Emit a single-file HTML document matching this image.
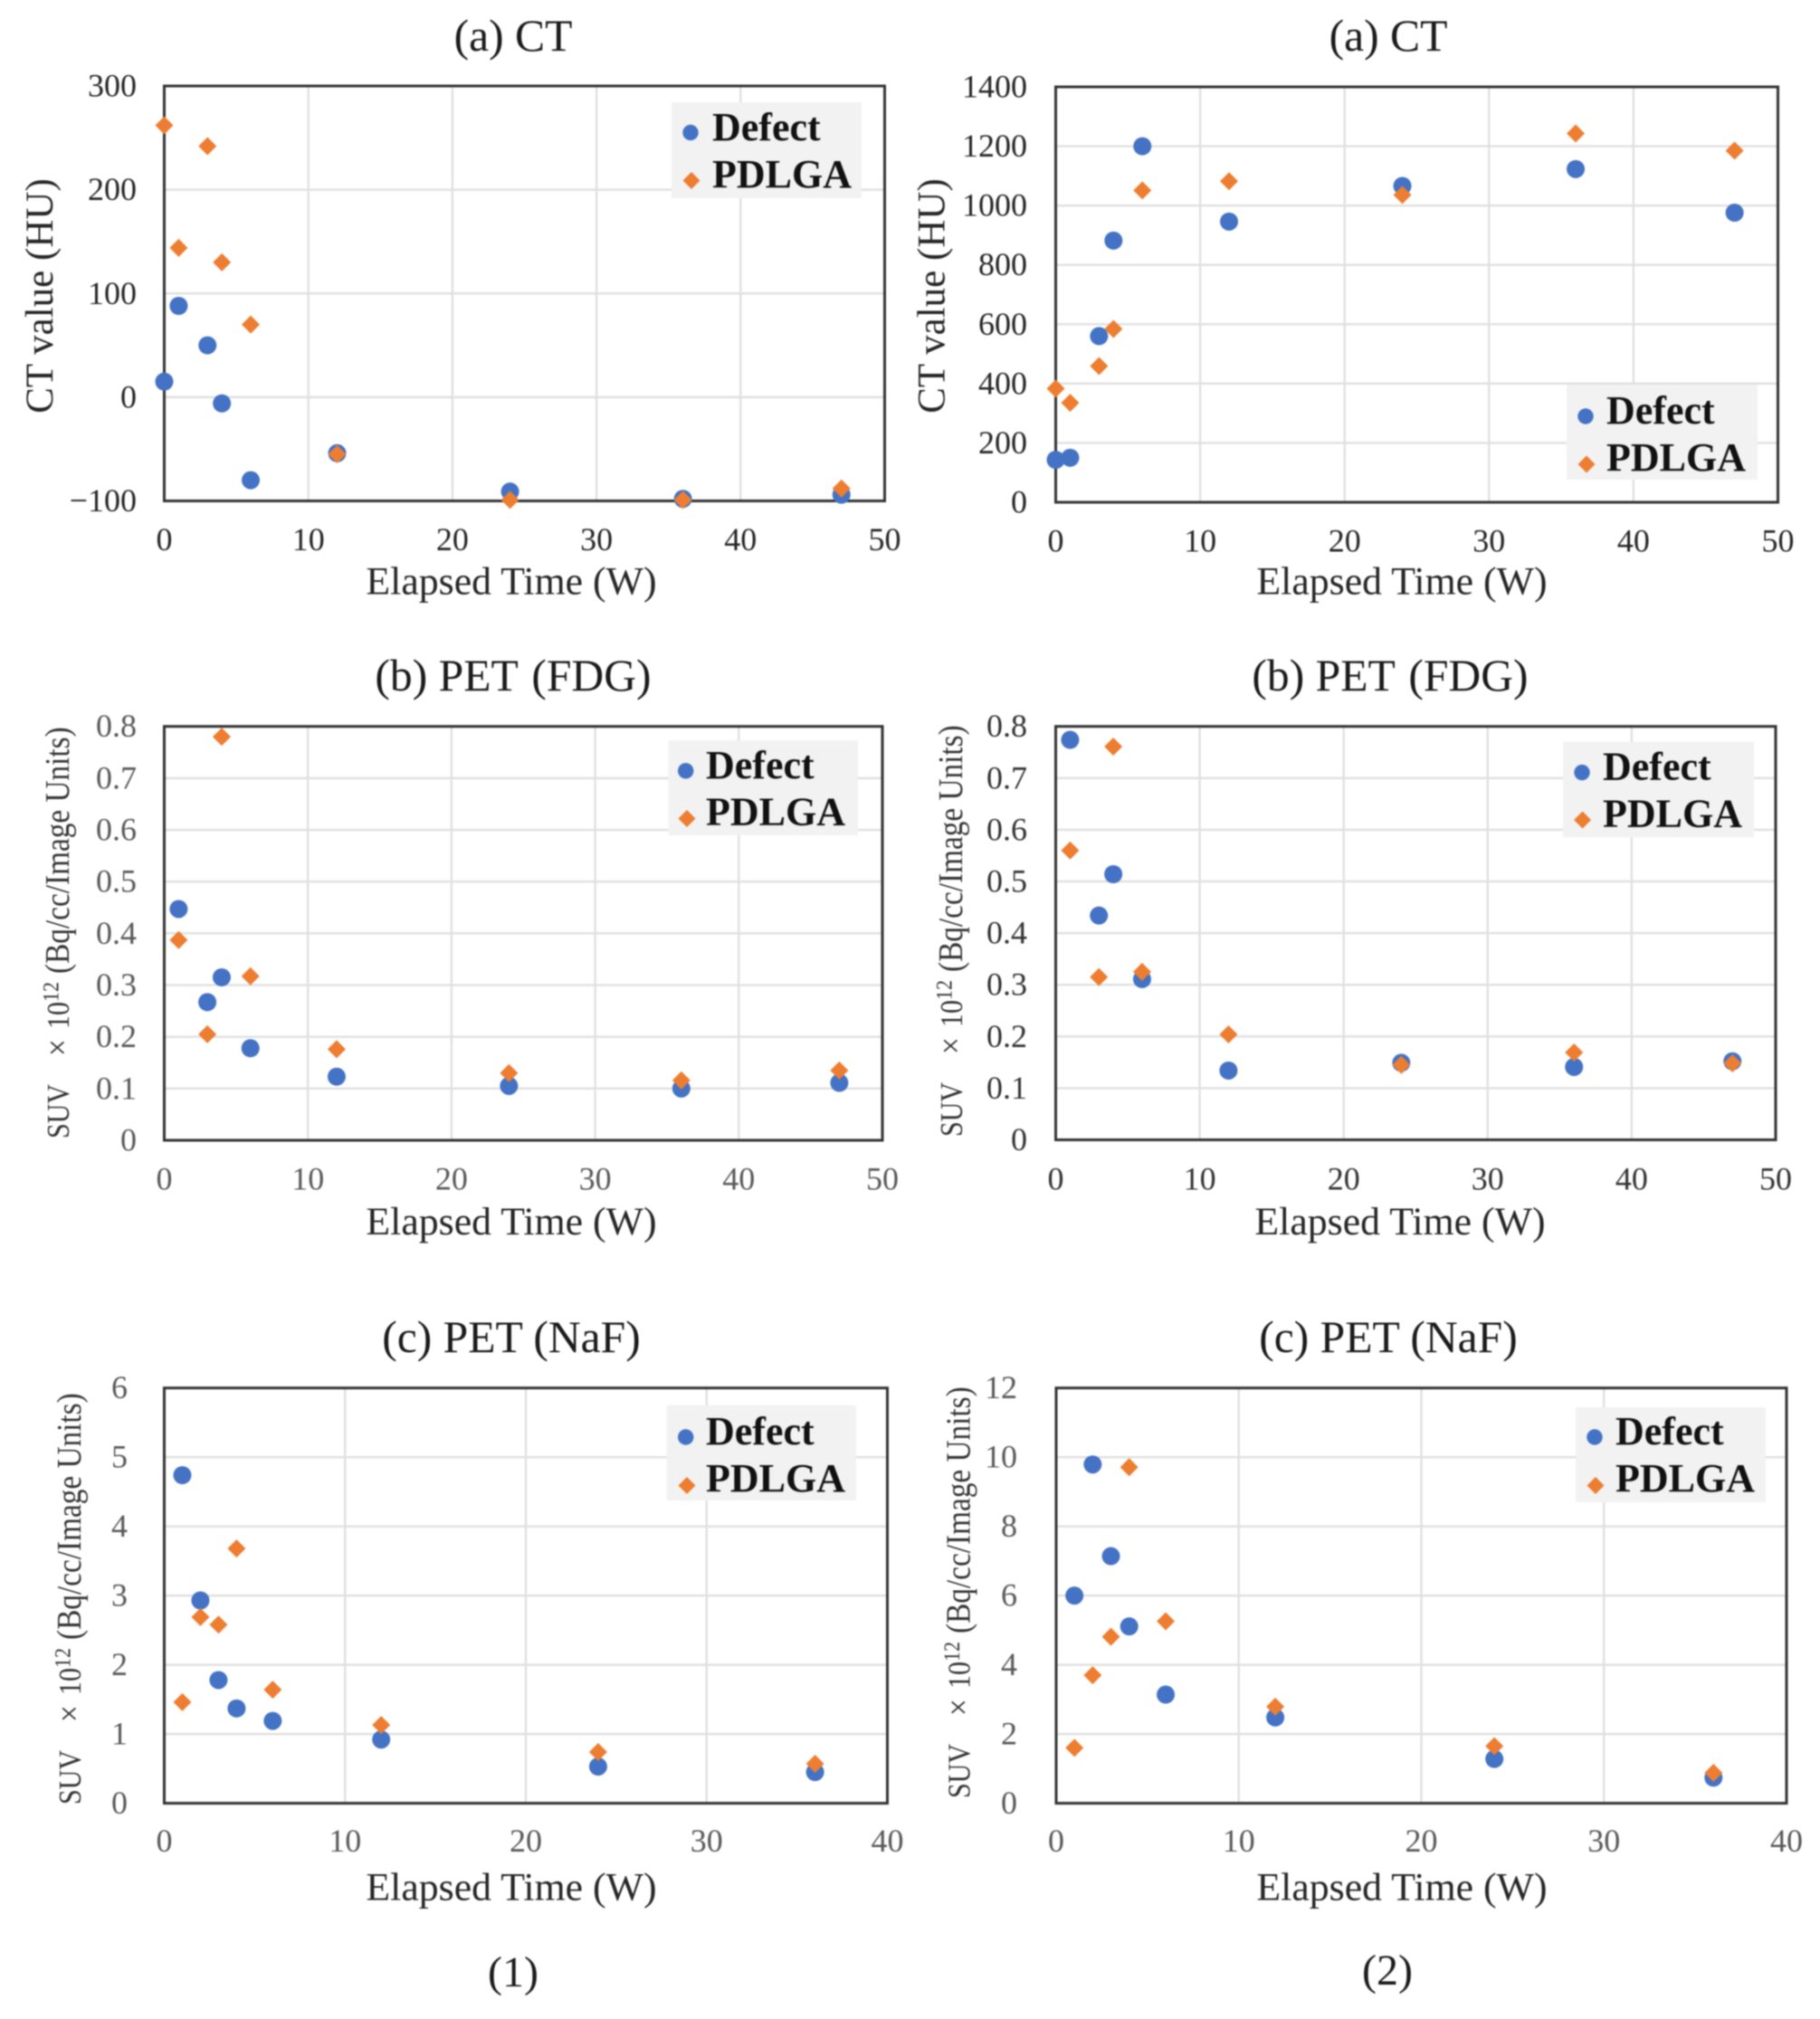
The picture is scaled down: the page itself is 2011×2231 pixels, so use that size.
<!DOCTYPE html>
<html lang="en">
<head>
<meta charset="utf-8">
<title>CT and PET values over elapsed time</title>
<style>
  html, body { margin: 0; padding: 0; background: #ffffff; }
  #figure { display: block; width: 2011px; height: 2231px; filter: blur(0.8px); }
  text { font-family: "Liberation Serif", "DejaVu Serif", serif; }
  .panel-title { font-size: 49.6px; fill: #1a1a1a; text-anchor: middle; }
  .x-title { font-size: 43.8px; fill: #262626; text-anchor: middle; }
  .y-title { font-size: 43px; fill: #262626; text-anchor: middle; }
  .y-title-small { font-size: 33.3px; fill: #333333; }
  .legend-text { font-size: 44px; font-weight: bold; fill: #111111; }
  .figure-label { font-size: 48px; fill: #1a1a1a; text-anchor: middle; }
</style>
</head>
<body>
<svg id="figure" xmlns="http://www.w3.org/2000/svg" width="2011" height="2231" viewBox="0 0 2011 2231">
  <rect width="2011" height="2231" fill="#ffffff"/>

  <!-- Panel 1: CT, column 1 -->
  <g>
    <text class="panel-title" x="567" y="56">(a) CT</text>
    <text class="y-title" transform="translate(58 327) rotate(-90)">CT value (HU)</text>
    <g id="plot-ct1"></g>
    <text class="x-title" x="565" y="656.5">Elapsed Time (W)</text>
    <g>
      <rect x="742" y="113" width="210" height="106" fill="#f2f2f2"/>
      <circle cx="763" cy="146.5" r="8.7" fill="#4472c4"/>
      <polygon points="764,190 773.5,199.5 764,209 754.5,199.5" fill="#ed7d31"/>
      <text class="legend-text" x="787" y="155">Defect</text>
      <text class="legend-text" x="787" y="207">PDLGA</text>
    </g>
  </g>

  <!-- Panel 2: CT, column 2 -->
  <g>
    <text class="panel-title" x="1534" y="56">(a) CT</text>
    <text class="y-title" transform="translate(1043.5 327) rotate(-90)">CT value (HU)</text>
    <g id="plot-ct2"></g>
    <text class="x-title" x="1549" y="656.5">Elapsed Time (W)</text>
    <g>
      <rect x="1731" y="425" width="211" height="105" fill="#f2f2f2"/>
      <circle cx="1752" cy="460" r="8.7" fill="#4472c4"/>
      <polygon points="1753,503.5 1762.5,513 1753,522.5 1743.5,513" fill="#ed7d31"/>
      <text class="legend-text" x="1775" y="468">Defect</text>
      <text class="legend-text" x="1775" y="520">PDLGA</text>
    </g>
  </g>

  <!-- Panel 3: PET FDG, column 1 -->
  <g>
    <text class="panel-title" x="567" y="763">(b) PET <tspan dx="3">(FDG)</tspan></text>
    <text class="y-title-small" transform="translate(76 1258) rotate(-90) scale(1 1.15)"><tspan x="0" font-size="30">SUV</tspan><tspan x="91">×</tspan><tspan x="121" font-size="30">10</tspan><tspan x="151" dy="-10" font-size="22">12</tspan><tspan x="182" dy="10">(Bq/cc/Image Units)</tspan></text>
    <g id="plot-fdg1"></g>
    <text class="x-title" x="565" y="1364">Elapsed Time (W)</text>
    <g>
      <rect x="738.5" y="818" width="209.5" height="105" fill="#f2f2f2"/>
      <circle cx="757.7" cy="851.8" r="8.7" fill="#4472c4"/>
      <polygon points="759,895 768.5,904.5 759,914 749.5,904.5" fill="#ed7d31"/>
      <text class="legend-text" x="780" y="860">Defect</text>
      <text class="legend-text" x="780" y="911.5">PDLGA</text>
    </g>
  </g>

  <!-- Panel 4: PET FDG, column 2 -->
  <g>
    <text class="panel-title" x="1536" y="763">(b) PET <tspan dx="3">(FDG)</tspan></text>
    <text class="y-title-small" transform="translate(1063 1256) rotate(-90) scale(1 1.15)"><tspan x="0" font-size="30">SUV</tspan><tspan x="91">×</tspan><tspan x="121" font-size="30">10</tspan><tspan x="151" dy="-10" font-size="22">12</tspan><tspan x="182" dy="10">(Bq/cc/Image Units)</tspan></text>
    <g id="plot-fdg2"></g>
    <text class="x-title" x="1547" y="1364">Elapsed Time (W)</text>
    <g>
      <rect x="1727" y="819.6" width="211" height="105.8" fill="#f2f2f2"/>
      <circle cx="1748" cy="853.6" r="8.7" fill="#4472c4"/>
      <polygon points="1748.6,896.5 1758.1,906 1748.6,915.5 1739.1,906" fill="#ed7d31"/>
      <text class="legend-text" x="1771" y="861.5">Defect</text>
      <text class="legend-text" x="1771" y="913.5">PDLGA</text>
    </g>
  </g>

  <!-- Panel 5: PET NaF, column 1 -->
  <g>
    <text class="panel-title" x="565" y="1494">(c) PET (NaF)</text>
    <text class="y-title-small" transform="translate(89 1994) rotate(-90) scale(1 1.15)"><tspan x="0" font-size="30">SUV</tspan><tspan x="91">×</tspan><tspan x="121" font-size="30">10</tspan><tspan x="151" dy="-10" font-size="22">12</tspan><tspan x="182" dy="10">(Bq/cc/Image Units)</tspan></text>
    <g id="plot-naf1"></g>
    <text class="x-title" x="565" y="2099.5">Elapsed Time (W)</text>
    <g>
      <rect x="736.5" y="1552.8" width="209.5" height="105.2" fill="#f2f2f2"/>
      <circle cx="757.7" cy="1588" r="8.7" fill="#4472c4"/>
      <polygon points="759,1632 768.5,1641.5 759,1651 749.5,1641.5" fill="#ed7d31"/>
      <text class="legend-text" x="780" y="1596">Defect</text>
      <text class="legend-text" x="780" y="1648">PDLGA</text>
    </g>
  </g>

  <!-- Panel 6: PET NaF, column 2 -->
  <g>
    <text class="panel-title" x="1534" y="1494">(c) PET (NaF)</text>
    <text class="y-title-small" transform="translate(1071.5 1987) rotate(-90) scale(1 1.15)"><tspan x="0" font-size="30">SUV</tspan><tspan x="91">×</tspan><tspan x="121" font-size="30">10</tspan><tspan x="151" dy="-10" font-size="22">12</tspan><tspan x="182" dy="10">(Bq/cc/Image Units)</tspan></text>
    <g id="plot-naf2"></g>
    <text class="x-title" x="1549" y="2099.5">Elapsed Time (W)</text>
    <g>
      <rect x="1741" y="1555" width="210" height="105" fill="#f2f2f2"/>
      <circle cx="1762" cy="1588" r="8.7" fill="#4472c4"/>
      <polygon points="1763,1632 1772.5,1641.5 1763,1651 1753.5,1641.5" fill="#ed7d31"/>
      <text class="legend-text" x="1785" y="1596">Defect</text>
      <text class="legend-text" x="1785" y="1648">PDLGA</text>
    </g>
  </g>

  <text class="figure-label" x="567" y="2195">(1)</text>
  <text class="figure-label" x="1533" y="2193">(2)</text>
</svg>

<script>
// Categories: elapsed weeks
const weeksCt = [0, 1, 3, 4, 6, 12, 24, 36, 47];
const weeksFdg = [1, 3, 4, 6, 12, 24, 36, 47];
const weeksNaf = [1, 2, 3, 4, 6, 12, 24, 36];

// Series values
const ct1Defect = [15, 88, 50, -6, -80, -54, -91, -98, -94];
const ct1Pdlga = [262, 144, 242, 130, 70, -55, -99, -99, -88];
const ct2Defect = [143, 150, 560, 882, 1200, 946, 1066, 1123, 976];
const ct2Pdlga = [383, 335, 459, 584, 1051, 1082, 1036, 1243, 1185];
const fdg1Defect = [0.447, 0.267, 0.315, 0.178, 0.123, 0.105, 0.1, 0.111];
const fdg1Pdlga = [0.387, 0.205, 0.78, 0.317, 0.176, 0.13, 0.116, 0.135];
const fdg2Defect = [0.774, 0.434, 0.514, 0.311, 0.134, 0.149, 0.141, 0.152];
const fdg2Pdlga = [0.56, 0.315, 0.761, 0.325, 0.204, 0.145, 0.169, 0.148];
const naf1Defect = [4.74, 2.93, 1.78, 1.37, 1.19, 0.92, 0.53, 0.45];
const naf1Pdlga = [1.46, 2.69, 2.58, 3.68, 1.64, 1.13, 0.74, 0.57];
const naf2Defect = [6.0, 9.79, 7.14, 5.11, 3.14, 2.48, 1.28, 0.74];
const naf2Pdlga = [1.6, 3.7, 4.81, 9.71, 5.26, 2.79, 1.65, 0.88];

// Tick labels
const xTicks50 = [0, 10, 20, 30, 40, 50];
const xTicks40 = [0, 10, 20, 30, 40];
const yTicksCt1 = [-100, 0, 100, 200, 300];
const yLabelsCt1 = ['\u2212100', '0', '100', '200', '300'];
const yTicksCt2 = [0, 200, 400, 600, 800, 1000, 1200, 1400];
const yLabelsCt2 = ['0', '200', '400', '600', '800', '1000', '1200', '1400'];
const yTicksFdg = [0, 0.1, 0.2, 0.3, 0.4, 0.5, 0.6, 0.7, 0.8];
const yLabelsFdg = ['0', '0.1', '0.2', '0.3', '0.4', '0.5', '0.6', '0.7', '0.8'];
const yTicksNaf1 = [0, 1, 2, 3, 4, 5, 6];
const yLabelsNaf1 = ['0', '1', '2', '3', '4', '5', '6'];
const yTicksNaf2 = [0, 2, 4, 6, 8, 10, 12];
const yLabelsNaf2 = ['0', '2', '4', '6', '8', '10', '12'];

const NS = 'http://www.w3.org/2000/svg';

function make(parent, tag, props) {
  const node = document.createElementNS(NS, tag);
  for (const key in props) node.setAttribute(key, props[key]);
  parent.appendChild(node);
  return node;
}

function drawPanel(cfg) {
  const root = document.getElementById(cfg.id);
  const xMin = cfg.xTicks[0];
  const xMax = cfg.xTicks[cfg.xTicks.length - 1];
  const yMin = cfg.yTicks[0];
  const yMax = cfg.yTicks[cfg.yTicks.length - 1];
  const xScale = v => cfg.left + (v - xMin) / (xMax - xMin) * (cfg.right - cfg.left);
  const yScale = v => cfg.bottom - (v - yMin) / (yMax - yMin) * (cfg.bottom - cfg.top);

  cfg.xTicks.forEach((tick, i) => {
    if (i > 0 && i < cfg.xTicks.length - 1) {
      const grid = make(root, 'line', {
        x1: xScale(tick), x2: xScale(tick), y1: cfg.top, y2: cfg.bottom,
        stroke: '#e0e0e0', 'stroke-width': 2.4
      });
      
      
    }
    const label = make(root, 'text', {
      x: xScale(tick), y: cfg.xLabelY, 'text-anchor': 'middle',
      'font-size': 36, fill: cfg.tickColor
    });
    label.textContent = String(tick);
    
    
  });

  cfg.yTicks.forEach((tick, i) => {
    if (i > 0 && i < cfg.yTicks.length - 1) {
      const grid = make(root, 'line', {
        x1: cfg.left, x2: cfg.right, y1: yScale(tick), y2: yScale(tick),
        stroke: '#e0e0e0', 'stroke-width': 2.4
      });
      
      
    }
    const label = make(root, 'text', {
      x: cfg.yLabelX, y: yScale(tick) + 11.5, 'text-anchor': 'end',
      'font-size': 36, fill: cfg.tickColor
    });
    label.textContent = cfg.yLabels[i];
    
    
  });

  const frame = make(root, 'rect', {
    x: cfg.left, y: cfg.top, width: cfg.right - cfg.left, height: cfg.bottom - cfg.top,
    fill: 'none', stroke: '#333333', 'stroke-width': 3
  });
  
  

  cfg.weeks.forEach((week, i) => {
    const dot = make(root, 'circle', {
      cx: xScale(week), cy: yScale(cfg.defect[i]), r: 10, fill: '#4472c4'
    });
    
    
  });

  cfg.weeks.forEach((week, i) => {
    const cx = xScale(week);
    const cy = yScale(cfg.pdlga[i]);
    const d = 10;
    const diamond = make(root, 'polygon', {
      points: [cx, cy - d, cx + d, cy, cx, cy + d, cx - d, cy].join(' '),
      fill: '#ed7d31'
    });
    
    
  });
}

drawPanel({ id: 'plot-ct1', left: 181.5, right: 977.5, top: 95, bottom: 553.5, xLabelY: 608, yLabelX: 151, tickColor: '#262626',
  weeks: weeksCt, defect: ct1Defect, pdlga: ct1Pdlga, xTicks: xTicks50, yTicks: yTicksCt1, yLabels: yLabelsCt1 });
drawPanel({ id: 'plot-ct2', left: 1166.5, right: 1964.5, top: 96, bottom: 555, xLabelY: 609.5, yLabelX: 1135, tickColor: '#262626',
  weeks: weeksCt, defect: ct2Defect, pdlga: ct2Pdlga, xTicks: xTicks50, yTicks: yTicksCt2, yLabels: yLabelsCt2 });
drawPanel({ id: 'plot-fdg1', left: 181.5, right: 975, top: 802.7, bottom: 1260, xLabelY: 1314.5, yLabelX: 151, tickColor: '#595959',
  weeks: weeksFdg, defect: fdg1Defect, pdlga: fdg1Pdlga, xTicks: xTicks50, yTicks: yTicksFdg, yLabels: yLabelsFdg });
drawPanel({ id: 'plot-fdg2', left: 1166.5, right: 1962, top: 802.7, bottom: 1259.5, xLabelY: 1314.5, yLabelX: 1135, tickColor: '#333333',
  weeks: weeksFdg, defect: fdg2Defect, pdlga: fdg2Pdlga, xTicks: xTicks50, yTicks: yTicksFdg, yLabels: yLabelsFdg });
drawPanel({ id: 'plot-naf1', left: 181.5, right: 980.5, top: 1533.7, bottom: 1992.6, xLabelY: 2046, yLabelX: 141, tickColor: '#595959',
  weeks: weeksNaf, defect: naf1Defect, pdlga: naf1Pdlga, xTicks: xTicks40, yTicks: yTicksNaf1, yLabels: yLabelsNaf1 });
drawPanel({ id: 'plot-naf2', left: 1167, right: 1974, top: 1533.7, bottom: 1992.6, xLabelY: 2046, yLabelX: 1124, tickColor: '#595959',
  weeks: weeksNaf, defect: naf2Defect, pdlga: naf2Pdlga, xTicks: xTicks40, yTicks: yTicksNaf2, yLabels: yLabelsNaf2 });
</script>
</body>
</html>
